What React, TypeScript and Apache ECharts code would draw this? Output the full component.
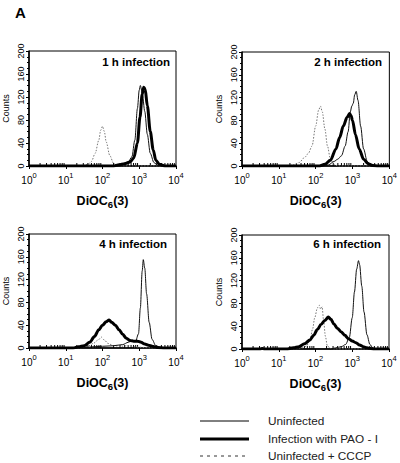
import React, { useEffect, useRef } from "react";
import * as echarts from "echarts";

// Panel titles
const panelTitles = ["1 h infection", "2 h infection", "4 h infection", "6 h infection"];
// X tick decades (log10 exponent) and y ticks
const xDecades = [0, 1, 2, 3, 4];
const yTicks = [0, 40, 80, 120, 160, 200];
const legendNames = ["Uninfected", "Infection with PAO - I", "Uninfected + CCCP"];

// Data points: [log10(DiOC6 fluorescence), counts]
const cccp1h = [[0,0],[1.3,0],[1.5,1],[1.6,3],[1.7,8],[1.8,22],[1.9,45],[1.95,62],[2.0,69],[2.05,60],[2.1,42],[2.2,18],[2.3,5],[2.4,1],[2.6,0],[4,0]];
const uninf1h = [[0,0],[2.2,0],[2.4,2],[2.55,4],[2.7,7],[2.8,16],[2.88,45],[2.95,100],[3.0,132],[3.03,140],[3.08,128],[3.15,95],[3.22,55],[3.3,22],[3.4,6],[3.5,1],[3.7,0],[4,0]];
const inf1h = [[0,0],[2.3,0],[2.45,2],[2.6,4],[2.75,7],[2.85,14],[2.95,40],[3.02,85],[3.08,125],[3.12,137],[3.16,134],[3.22,105],[3.3,60],[3.38,28],[3.45,10],[3.55,3],[3.7,0],[4,0]];

const cccp2h = [[0,0],[1.2,0],[1.4,2],[1.55,6],[1.7,15],[1.8,22],[1.9,35],[2.0,70],[2.08,98],[2.13,105],[2.18,95],[2.25,65],[2.32,35],[2.4,12],[2.5,3],[2.6,0],[4,0]];
const uninf2h = [[0,0],[2.2,0],[2.35,2],[2.5,8],[2.6,12],[2.7,18],[2.8,35],[2.88,60],[2.94,95],[2.98,105],[3.02,110],[3.06,125],[3.1,131],[3.15,115],[3.22,70],[3.3,30],[3.4,8],[3.5,1],[3.6,0],[4,0]];
const inf2h = [[0,0],[2.1,0],[2.25,3],[2.4,10],[2.55,30],[2.65,50],[2.75,70],[2.85,85],[2.92,92],[2.96,88],[3.0,80],[3.08,55],[3.18,30],[3.3,12],[3.42,4],[3.55,1],[3.7,0],[4,0]];

const cccp4h = [[0,0],[1.4,0],[1.6,3],[1.75,8],[1.88,14],[1.97,19],[2.05,14],[2.15,8],[2.3,4],[2.5,3],[2.7,4],[2.9,2],[3.1,1],[3.3,0],[4,0]];
const uninf4h = [[0,0],[1.4,0],[1.7,2],[2.0,3],[2.3,4],[2.55,6],[2.7,10],[2.82,14],[2.9,12],[2.98,25],[3.03,70],[3.08,135],[3.11,155],[3.15,140],[3.2,95],[3.27,45],[3.35,15],[3.45,4],[3.55,1],[3.7,0],[4,0]];
const inf4h = [[0,0],[1.2,0],[1.35,2],[1.5,4],[1.65,10],[1.78,20],[1.9,32],[2.0,40],[2.1,46],[2.18,49],[2.25,45],[2.35,40],[2.45,32],[2.55,24],[2.65,17],[2.75,13],[2.85,12],[2.95,12],[3.05,10],[3.15,7],[3.25,5],[3.35,3],[3.5,1],[3.7,0],[4,0]];

const cccp6h = [[0,0],[1.4,0],[1.6,1],[1.75,5],[1.85,15],[1.92,35],[1.98,55],[2.05,72],[2.1,77],[2.14,70],[2.18,74],[2.22,50],[2.27,22],[2.32,6],[2.4,1],[2.5,0],[4,0]];
const uninf6h = [[0,0],[2.4,0],[2.55,2],[2.7,4],[2.82,8],[2.92,20],[3.0,55],[3.06,100],[3.12,140],[3.17,155],[3.2,148],[3.26,110],[3.32,65],[3.4,25],[3.48,8],[3.56,2],[3.65,0],[4,0]];
const inf6h = [[0,0],[0.5,0],[0.55,1],[0.6,0],[1.2,0],[1.4,2],[1.55,4],[1.7,9],[1.85,16],[1.95,24],[2.05,34],[2.15,43],[2.25,50],[2.35,56],[2.42,52],[2.5,44],[2.6,36],[2.7,30],[2.8,24],[2.9,18],[3.0,14],[3.1,11],[3.2,7],[3.3,4],[3.4,2],[3.5,1],[3.6,0],[4,0]];

const panels = [
  { cccp: cccp1h, uninf: uninf1h, inf: inf1h },
  { cccp: cccp2h, uninf: uninf2h, inf: inf2h },
  { cccp: cccp4h, uninf: uninf4h, inf: inf4h },
  { cccp: cccp6h, uninf: uninf6h, inf: inf6h },
];

const FONT = "'Liberation Sans', Arial, sans-serif";

const grids = [
  { left: 29, top: 51, width: 147, height: 115 },
  { left: 242, top: 52, width: 148, height: 114 },
  { left: 29, top: 234, width: 147, height: 114 },
  { left: 242, top: 235, width: 147, height: 114 },
];
const titlePos = [
  { right: 230, top: 56 },
  { right: 18, top: 56 },
  { right: 233, top: 238 },
  { right: 19, top: 238 },
];

export default function App() {
  const ref = useRef<HTMLDivElement>(null);
  useEffect(() => {
    document.body.style.margin = "0";
    const chart = echarts.init(ref.current!, null, { renderer: "svg" });
    const toXY = (d: number[][]) => d.map(([e, c]) => [Math.pow(10, e), c]);
    const minorTicks: number[][] = [];
    xDecades.slice(0, -1).forEach((d) => {
      for (let k = 2; k <= 9; k++) minorTicks.push([k * Math.pow(10, d), 0]);
    });

    const series: any[] = [];
    panels.forEach((p, i) => {
      series.push({
        type: "line", xAxisIndex: i, yAxisIndex: i, data: toXY(p.cccp), showSymbol: false,
        smooth: 0.3, smoothMonotone: "x",
        lineStyle: { color: "#777", width: 1, type: [1.5, 1.5] }, silent: true,
      });
      series.push({
        type: "line", xAxisIndex: i, yAxisIndex: i, data: toXY(p.uninf), showSymbol: false,
        smooth: 0.3, smoothMonotone: "x",
        lineStyle: { color: "#111", width: 1 }, silent: true,
      });
      series.push({
        type: "line", xAxisIndex: i, yAxisIndex: i, data: toXY(p.inf), showSymbol: false,
        smooth: 0.3, smoothMonotone: "x",
        lineStyle: { color: "#000", width: 3 }, silent: true,
      });
      series.push({
        type: "custom", xAxisIndex: i, yAxisIndex: i, data: minorTicks, silent: true, clip: false,
        renderItem: (params: any, api: any) => {
          const pt = api.coord([api.value(0), 0]);
          return {
            type: "line",
            shape: { x1: pt[0], y1: pt[1], x2: pt[0], y2: pt[1] - 3 },
            style: { stroke: "#000", lineWidth: 1 },
          };
        },
      });
    });

    const legendY = [421, 439, 456];
    const graphic: any[] = [
      { type: "text", left: 15, top: 5, style: { text: "A", font: `bold 15px ${FONT}`, fill: "#000" } },
    ];
    const legStyles = [
      { stroke: "#000", lineWidth: 1 },
      { stroke: "#000", lineWidth: 3 },
      { stroke: "#333", lineWidth: 1, lineDash: [3, 4] },
    ];
    legendNames.forEach((n, i) => {
      graphic.push({ type: "line", shape: { x1: 200, y1: legendY[i], x2: 249, y2: legendY[i] }, style: legStyles[i] });
      graphic.push({
        type: "text", x: 268, y: legendY[i],
        style: { text: n, font: `11.8px ${FONT}`, fill: "#222", textVerticalAlign: "middle", verticalAlign: "middle" },
      });
    });

    chart.setOption({
      animation: false,
      backgroundColor: "#fff",
      title: panelTitles.map((t, i) => ({
        text: t, ...titlePos[i],
        textStyle: { fontSize: 11.5, fontWeight: "bold", fontFamily: FONT, color: "#000" },
        padding: 0,
      })),
      grid: grids.map((g) => ({ ...g, show: true, borderColor: "#000", borderWidth: 1, backgroundColor: "transparent" })),
      xAxis: grids.map((_, i) => ({
        type: "log", logBase: 10, gridIndex: i, min: 1, max: 10000,
        name: "{m|DiOC}{s|6}{m|(3)}", nameLocation: "middle", nameGap: 27,
        nameTextStyle: {
          rich: {
            m: { fontSize: 12.5, fontWeight: "bold", fontFamily: FONT, color: "#000" },
            s: { fontSize: 9.5, fontWeight: "bold", fontFamily: FONT, color: "#000", padding: [6, 0, 0, 0] },
          },
        },
        axisLine: { show: true, lineStyle: { color: "#000", width: 1.5 } },
        axisTick: { show: true, length: 3, lineStyle: { color: "#000" } },
        splitLine: { show: false },
        axisLabel: {
          margin: 4,
          formatter: (v: number) => `{b|10}{s|${Math.round(Math.log10(v))}}`,
          rich: {
            b: { fontSize: 10, fontFamily: FONT, color: "#000", padding: [5, 0, 0, 0] },
            s: { fontSize: 7.5, fontFamily: FONT, color: "#000", padding: [0, 0, 4, 0] },
          },
        },
      })),
      yAxis: grids.map((_, i) => ({
        type: "value", gridIndex: i, min: yTicks[0], max: yTicks[yTicks.length - 1], interval: 40,
        name: "Counts", nameLocation: "middle", nameGap: 19, nameRotate: 90,
        nameTextStyle: { fontSize: 9, fontFamily: FONT, color: "#000" },
        axisLine: { show: true, lineStyle: { color: "#000", width: 1.5 } },
        axisTick: { show: true, length: 3, lineStyle: { color: "#000" } },
        minorTick: { show: true, splitNumber: 4, length: 2, lineStyle: { color: "#000" } },
        splitLine: { show: false },
        axisLabel: { rotate: 90, fontSize: 9, fontFamily: FONT, color: "#000", margin: 4 },
      })),
      series,
      graphic,
    });
    return () => chart.dispose();
  }, []);
  return <div ref={ref} style={{ width: 400, height: 463 }} />;
}
